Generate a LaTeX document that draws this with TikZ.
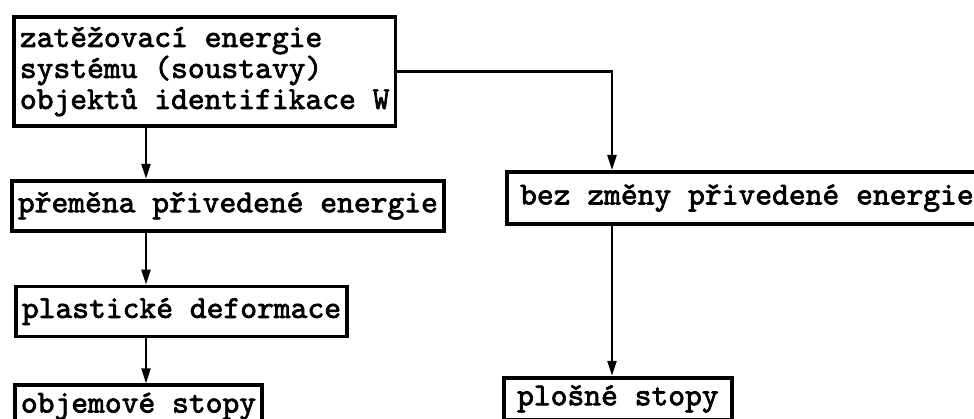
\documentclass[tikz,border=0pt]{standalone}
\usepackage{fontspec}
\setmonofont{lmmono10-regular.otf}[BoldFont=lmmono10-regular.otf, BoldFeatures={FakeBold=2.2}]
\usetikzlibrary{arrows.meta, positioning}

\tikzset{
  box/.style={rectangle, draw=black, line width=3.8pt, fill=white, text=black, font=\ttfamily\bfseries\fontsize{32}{31}\selectfont, inner xsep=6pt, inner ysep=4pt, minimum height=50pt, align=left},
  arr/.style={-{Triangle[length=15pt, width=9pt]}, line width=2.3pt},
}

\begin{document}
\begin{tikzpicture}[x=1pt, y=-1pt]
    \useasboundingbox (0,0) rectangle (974,419);
    \node (ener) [box, anchor=north west, minimum height=109pt] at (12,15) {zatěžovací energie\\systému (soustavy)\\objektů identifikace W};%draws energy box
    % =============== left branch ====================
    \node (prem) [box, below right=51pt and -2pt of ener.south west]{přeměna přivedené energie};%draws conversion
    \node (plast) [box, below right=52pt and 4pt of prem.south west]{plastické deformace};%draws deformation
    \node (objem) [box, below right=45pt and -1pt of plast.south west, minimum height=42pt]{objemové stopy};%draws volume traces
    % =============== right branch ====================
    \node (bez) [box, anchor=north west, minimum width=480pt, minimum height=52pt, align=center] at (505,170){bez změny přivedené energie};%draws no change
    \node (plos) [box, below right=150pt and -3pt of bez.south west, minimum width=228pt, minimum height=42pt, align=center]{plošné stopy};%draws surface traces
    % stems of the arrows
    \coordinate (stemL) at (146,0);
    \coordinate (stemR) at (612,0);
    \draw[arr] (ener.south -| stemL) -- (prem.north -| stemL);%energy to conversion
    \draw[arr] (prem.south -| stemL) -- (plast.north -| stemL);%conversion to deformation
    \draw[arr] (plast.south -| stemL) -- (objem.north -| stemL);%deformation to volume traces
    \draw[arr] (ener.east) -| (bez.north -| stemR);%energy to no change
    \draw[arr] (bez.south -| stemR) -- (plos.north -| stemR);%no change to surface traces
\end{tikzpicture}
\end{document}
